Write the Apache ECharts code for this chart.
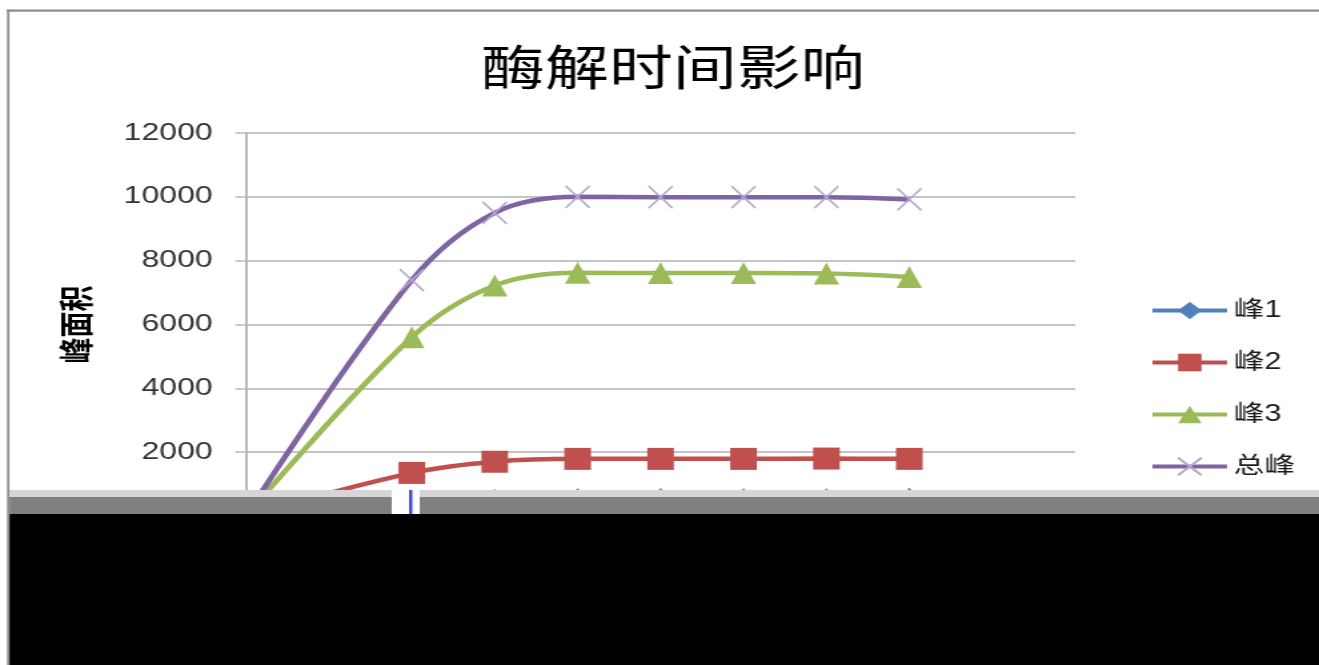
<!DOCTYPE html>
<html>
<head>
<meta charset="utf-8">
<title>酶解时间影响</title>
<script src="https://cdn.jsdelivr.net/npm/echarts@6/dist/echarts.min.js"></script>
<style>
  html, body { margin: 0; padding: 0; background: #ffffff; }
  #wrap { width: 1319px; height: 665px; overflow: hidden; position: relative; background: #ffffff; }
  /* the chart is laid out on a narrower canvas and stretched horizontally */
  #chart { width: 990px; height: 665px; transform: scaleX(1.332323); transform-origin: 0 0; }
</style>
</head>
<body>
<div id="wrap"><div id="chart"></div></div>
<script>
// 酶解时间 (x) and peak areas for each peak
const timePoints = [0, 2, 3, 4, 5, 6, 7, 8];
const peak1 = [0, 420, 580, 600, 610, 600, 600, 620];
const peak2 = [0, 1350, 1700, 1790, 1790, 1790, 1800, 1790];
const peak3 = [0, 5600, 7220, 7620, 7610, 7610, 7600, 7490];
const totalPeak = [0, 7390, 9500, 10000, 9990, 9990, 9990, 9920];
const seriesNames = ['峰1', '峰2', '峰3', '总峰'];
const yAxisRange = [0, 12000, 2000];
const xAxisRange = [0, 10, 1];

const colors = ['#4F81BD', '#C0504D', '#9BBB59', '#8064A2'];
const pairs = arr => timePoints.map((t, i) => [t, arr[i]]);

const chart = echarts.init(document.getElementById('chart'), null, { renderer: 'canvas' });

const lineBase = {
  type: 'line',
  smooth: 0.35,
  showSymbol: true,
  z: 3
};

chart.setOption({
  animation: false,
  color: colors,
  title: {
    text: '酶解时间影响',
    left: 356,
    top: 38,
    textStyle: {
      fontFamily: '"Noto Sans CJK SC", sans-serif',
      fontSize: 48,
      fontWeight: 'normal',
      color: '#000000'
    }
  },
  legend: {
    orient: 'vertical',
    left: 858,
    top: 294,
    itemWidth: 56,
    itemHeight: 22,
    itemGap: 29,
    data: seriesNames,
    lineStyle: { width: 4 },
    textStyle: {
      fontFamily: '"Liberation Sans", "Noto Sans CJK SC", sans-serif',
      fontSize: 23,
      color: '#1a1a1a'
    }
  },
  grid: {
    left: 184.6,
    right: 183,
    top: 133,
    bottom: 149,
    containLabel: false
  },
  xAxis: {
    type: 'value',
    min: xAxisRange[0],
    max: xAxisRange[1],
    interval: xAxisRange[2],
    axisLine: { show: true, lineStyle: { color: '#b8b8b8', width: 2 } },
    axisTick: { show: false },
    axisLabel: { show: false },
    splitLine: { show: false }
  },
  yAxis: {
    type: 'value',
    min: yAxisRange[0],
    max: yAxisRange[1],
    interval: yAxisRange[2],
    name: '峰面积',
    nameLocation: 'middle',
    nameRotate: 90,
    nameGap: 114,
    nameTextStyle: {
      fontFamily: '"Noto Sans CJK SC", sans-serif',
      fontSize: 26,
      fontWeight: 'bold',
      color: '#000000'
    },
    axisLine: { show: true, lineStyle: { color: '#b8b8b8', width: 2 } },
    axisTick: { show: true, inside: false, length: 8, lineStyle: { color: '#b8b8b8', width: 1.5 } },
    axisLabel: {
      margin: 25,
      fontFamily: '"Liberation Sans", Arial, sans-serif',
      fontSize: 24,
      color: '#333333',
      formatter: v => String(v)
    },
    splitLine: { show: true, lineStyle: { color: '#c4c4c4', width: 2 } }
  },
  series: [
    Object.assign({}, lineBase, {
      name: seriesNames[0],
      data: pairs(peak1),
      symbol: 'diamond',
      symbolSize: [13, 17],
      lineStyle: { color: colors[0], width: 4.5 },
      itemStyle: { color: colors[0] }
    }),
    Object.assign({}, lineBase, {
      name: seriesNames[1],
      data: pairs(peak2),
      symbol: 'rect',
      symbolSize: [20, 22],
      lineStyle: { color: colors[1], width: 4.5 },
      itemStyle: { color: colors[1] }
    }),
    Object.assign({}, lineBase, {
      name: seriesNames[2],
      data: pairs(peak3),
      symbol: 'triangle',
      symbolSize: [19, 22],
      lineStyle: { color: colors[2], width: 4.5 },
      itemStyle: { color: colors[2] }
    }),
    Object.assign({}, lineBase, {
      name: seriesNames[3],
      data: pairs(totalPeak),
      symbol: 'path://M0,0L20,20M20,0L0,20',
      symbolSize: [18, 22],
      lineStyle: { color: colors[3], width: 4.5 },
      itemStyle: { color: 'none', borderColor: '#b3a5d1', borderWidth: 1.6 }
    })
  ],
  graphic: [
    // outer frame (top and left edges)
    { type: 'rect', z: 200, shape: { x: 5.3, y: 9.5, width: 990, height: 2.2 }, style: { fill: '#8c8c8c' } },
    { type: 'rect', z: 200, shape: { x: 5.3, y: 9.5, width: 1.8, height: 660 }, style: { fill: '#8c8c8c' } },
    // bottom band and dark area
    { type: 'rect', z: 150, shape: { x: 7.1, y: 490, width: 990, height: 7 }, style: { fill: '#d6d6d6' } },
    { type: 'rect', z: 150, shape: { x: 7.1, y: 497, width: 990, height: 17 }, style: { fill: '#808080' } },
    { type: 'rect', z: 151, shape: { x: 294, y: 490, width: 21, height: 24 }, style: { fill: '#ffffff' } },
    { type: 'rect', z: 152, shape: { x: 307, y: 490, width: 2.5, height: 24 }, style: { fill: '#4a4ac8' } },
    { type: 'rect', z: 150, shape: { x: 7.1, y: 514, width: 990, height: 160 }, style: { fill: '#000000' } }
  ]
});
</script>
</body>
</html>
